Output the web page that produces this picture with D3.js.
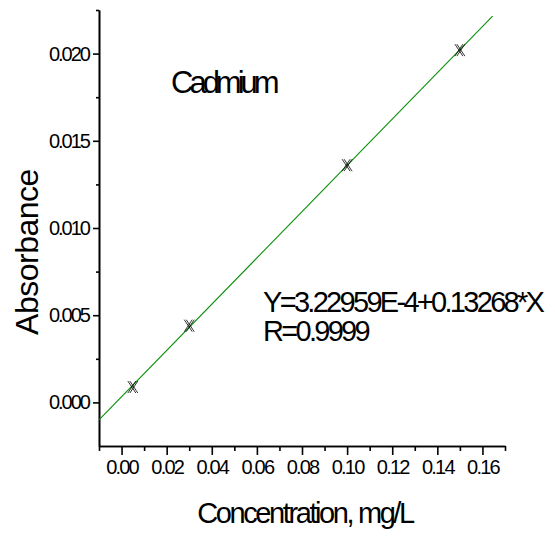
<!DOCTYPE html>
<html>
<head>
<meta charset="utf-8">
<script src="https://cdn.jsdelivr.net/npm/d3@7"></script>
<style>
  body { margin: 0; background: #fff; }
  svg { display: block; font-family: "Liberation Sans", Arial, sans-serif; }
  .axis path, .axis line { stroke: #000; stroke-width: 1.6; }
  .axis text { fill: #000; }
</style>
</head>
<body>
<svg id="chart" width="555" height="538"></svg>
<script>
// measured points
var concentrations = [0.005, 0.03, 0.10, 0.15];
var absorbances = [0.00088, 0.0044, 0.0136, 0.0202];

// linear fit shown on the chart
var fitIntercept = 3.22959E-4;
var fitSlope = 0.13268;
var fitRange = [-0.01, 0.1645];

// axis ticks
var xMajorTicks = [0.00, 0.02, 0.04, 0.06, 0.08, 0.10, 0.12, 0.14, 0.16];
var xMinorTicks = [-0.01, 0.01, 0.03, 0.05, 0.07, 0.09, 0.11, 0.13, 0.15, 0.17];
var yMajorTicks = [0.000, 0.005, 0.010, 0.015, 0.020];
var yMinorTicks = [0.0025, 0.0075, 0.0125, 0.0175, 0.0225];

var svg = d3.select("#chart");

var x = d3.scaleLinear().domain([-0.01, 0.17]).range([99, 505]);
var y = d3.scaleLinear().domain([-0.0025, 0.0225]).range([446, 10]);

// minor ticks first (no labels)
svg.append("g")
    .attr("class", "axis")
    .attr("transform", "translate(0,446)")
    .call(d3.axisBottom(x).tickValues(xMinorTicks).tickSize(5).tickSizeOuter(0).tickFormat(""));

svg.append("g")
    .attr("class", "axis")
    .attr("transform", "translate(99,0)")
    .call(d3.axisLeft(y).tickValues(yMinorTicks).tickSize(3).tickSizeOuter(0).tickFormat(""));

// major ticks with labels
var xAxis = svg.append("g")
    .attr("class", "axis")
    .attr("transform", "translate(0,446)")
    .call(d3.axisBottom(x).tickValues(xMajorTicks).tickSize(9).tickSizeOuter(0)
        .tickPadding(5).tickFormat(d3.format(".2f")));
xAxis.selectAll("text")
    .attr("font-size", 20)
    .attr("letter-spacing", -1.8);

var yAxis = svg.append("g")
    .attr("class", "axis")
    .attr("transform", "translate(99,0)")
    .call(d3.axisLeft(y).tickValues(yMajorTicks).tickSize(6).tickSizeOuter(0)
        .tickPadding(4).tickFormat(d3.format(".3f")));
yAxis.selectAll("text")
    .attr("font-size", 20)
    .attr("letter-spacing", -2);

// fit line
var line = d3.line()
    .x(function(d){ return x(d); })
    .y(function(d){ return y(fitIntercept + fitSlope * d); });

svg.append("path")
    .datum(fitRange)
    .attr("d", line)
    .attr("fill", "none")
    .attr("stroke", "#0a8f0a")
    .attr("stroke-width", 1.1);

// cross-hatch markers
var marker = "M-5,-6L3,6M-3,-6L5,6M3,-6L-5,6M5,-6L-3,6";
svg.selectAll(".pt")
    .data(concentrations)
    .enter().append("path")
    .attr("class", "pt")
    .attr("d", marker)
    .attr("transform", function(d, i){ return "translate(" + x(d) + "," + y(absorbances[i]) + ")"; })
    .attr("fill", "none")
    .attr("stroke", "#000")
    .attr("stroke-width", 0.8);

// labels
svg.append("text")
    .attr("x", 171)
    .attr("y", 93)
    .attr("font-size", 31)
    .attr("letter-spacing", -4)
    .text("Cadmium");

svg.append("text")
    .attr("x", 263)
    .attr("y", 312)
    .attr("font-size", 29)
    .attr("letter-spacing", -2.7)
    .text("Y=3.22959E-4+0.13268*X");

svg.append("text")
    .attr("x", 263)
    .attr("y", 341)
    .attr("font-size", 29)
    .attr("letter-spacing", -2.7)
    .text("R=0.9999");

svg.append("text")
    .attr("transform", "translate(38,252) rotate(-90)")
    .attr("text-anchor", "middle")
    .attr("font-size", 32)
    .attr("letter-spacing", -0.5)
    .text("Absorbance");

svg.append("text")
    .attr("x", 305)
    .attr("y", 523)
    .attr("text-anchor", "middle")
    .attr("font-size", 29)
    .attr("letter-spacing", -2.4)
    .text("Concentration, mg/L");
</script>
</body>
</html>
